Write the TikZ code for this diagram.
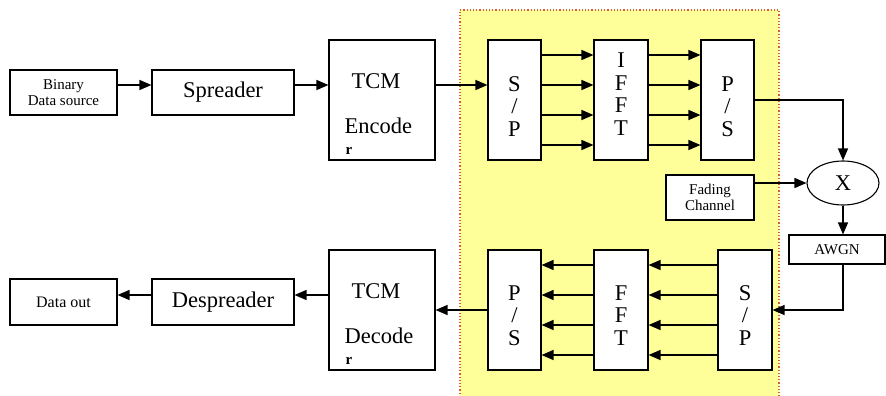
\documentclass[tikz,border=0pt]{standalone}
\usepackage{fontspec}
\setmainfont{Liberation Serif}
\usetikzlibrary{arrows.meta,shapes.geometric}
\definecolor{ofdmyellow}{RGB}{255,255,153}
\definecolor{ofdmborder}{RGB}{214,96,40}
\newcommand\blkfont{\fontsize{22.5}{22.5}\selectfont}
\newcommand\smlfont{\fontsize{15}{16}\selectfont}
\tikzset{
  blk/.style 2 args = {draw, line width=1.1pt, fill=white, inner sep=0pt,
                       minimum width=#1, minimum height=#2},
  stk/.style = {align=center, inner sep=0pt, font=\blkfont},
  lbl/.style = {inner sep=0pt, font=\blkfont},
  sml/.style = {align=center, inner sep=0pt, font=\smlfont},
  flow/.style = {line width=1.3pt, -{Triangle[length=12pt,width=10pt]}}
}

\begin{document}
\begin{tikzpicture}[x=1pt, y=-1pt]
	\def \ytx{85}   % top row arrows
	\def \yrx{295}  % bottom row arrows
	\useasboundingbox (0,0) rectangle (886,396);

	% OFDM area
	\fill[ofdmyellow] (460,10) rectangle (779,397);
	\draw[ofdmborder, line width=1.2pt, dotted] (460,397) -- (460,10) -- (779,10) -- (779,397);

	% Transmitter
	\node[blk={107pt}{45pt}, sml] (bin) at (63.5,92.5) {Binary\\Data source};
	\node[blk={142pt}{45pt}, lbl] (spr) at (223,92.5) {Spreader};
	\node[blk={106pt}{120pt}] (enc) at (382,100) {};
	\node[lbl, anchor=base west] (enct1) at ([xshift=23pt,yshift=-49pt]enc.north west) {TCM};
	\node[lbl, anchor=base west] (enct2) at ([xshift=16pt,yshift=-94pt]enc.north west) {Encode};
	\node[inner sep=0pt, anchor=base west, font=\smlfont\bfseries] (enct3) at ([xshift=17pt,yshift=-115pt]enc.north west) {r};
	\node[blk={53pt}{120pt}] (sp1) at (514.5,100) {};
	\node[stk] (sp1t) at (514.5,106.5) {S\\/\\P};
	\node[blk={54pt}{120pt}] (ifft) at (621,100) {};
	\node[stk] (ifftt) at (621,94) {I\\F\\F\\T};
	\node[blk={53pt}{120pt}] (ps1) at (727.5,100) {};
	\node[stk] (ps1t) at (727.5,106.5) {P\\/\\S};

	% Channel
	\node[draw, line width=1.1pt, ellipse, fill=white, minimum width=72pt, minimum height=44pt,
	      inner sep=0pt, font=\blkfont] (mix) at (843,183) {X};
	\node[blk={88pt}{45pt}, sml] (fade) at (710,197.5) {Fading\\Channel};
	\node[blk={96pt}{29pt}, sml] (awgn) at (837,249.5) {AWGN};

	% Receiver
	\node[blk={54pt}{120pt}] (sp2) at (745,310) {};
	\node[stk] (sp2t) at (745,315.5) {S\\/\\P};
	\node[blk={54pt}{120pt}] (fft) at (621,310) {};
	\node[stk] (fftt) at (621,315.5) {F\\F\\T};
	\node[blk={53pt}{120pt}] (ps2) at (514.5,310) {};
	\node[stk] (ps2t) at (514.5,315.5) {P\\/\\S};
	\node[blk={106pt}{120pt}] (dec) at (382,310) {};
	\node[lbl, anchor=base west] (dect1) at ([xshift=23pt,yshift=-49pt]dec.north west) {TCM};
	\node[lbl, anchor=base west] (dect2) at ([xshift=16pt,yshift=-94pt]dec.north west) {Decode};
	\node[inner sep=0pt, anchor=base west, font=\smlfont\bfseries] (dect3) at ([xshift=17pt,yshift=-115pt]dec.north west) {r};
	\node[blk={142pt}{46pt}, lbl] (desp) at (223,302) {Despreader};
	\node[blk={107pt}{46pt}, font=\fontsize{16}{17}\selectfont, inner sep=0pt] (out) at (63.5,302) {Data out};

	% Top row
	\draw[flow] (bin.east |- 0,\ytx) -- (spr.west |- 0,\ytx);
	\draw[flow] (spr.east |- 0,\ytx) -- (enc.west |- 0,\ytx);
	\draw[flow] (enc.east |- 0,\ytx) -- (sp1.west |- 0,\ytx);
	\foreach \y in {55,85,115,145} {
		\draw[flow] (sp1.east |- 0,\y) -- (ifft.west |- 0,\y);
		\draw[flow] (ifft.east |- 0,\y) -- (ps1.west |- 0,\y);
	}
	\draw[flow] (ps1.east) -| (mix.north);
	\draw[flow] (fade.east |- mix.west) -- (mix.west);
	\draw[flow] (mix.south) -- (mix.south |- awgn.north);
	\draw[flow] (mix.south |- awgn.south) |- (sp2.east);

	% Bottom row
	\foreach \y in {265,295,325,355} {
		\draw[flow] (sp2.west |- 0,\y) -- (fft.east |- 0,\y);
		\draw[flow] (fft.west |- 0,\y) -- (ps2.east |- 0,\y);
	}
	\draw[flow] (ps2.west) -- (dec.east);
	\draw[flow] (dec.west |- 0,\yrx) -- (desp.east |- 0,\yrx);
	\draw[flow] (desp.west |- 0,\yrx) -- (out.east |- 0,\yrx);
\end{tikzpicture}
\end{document}
